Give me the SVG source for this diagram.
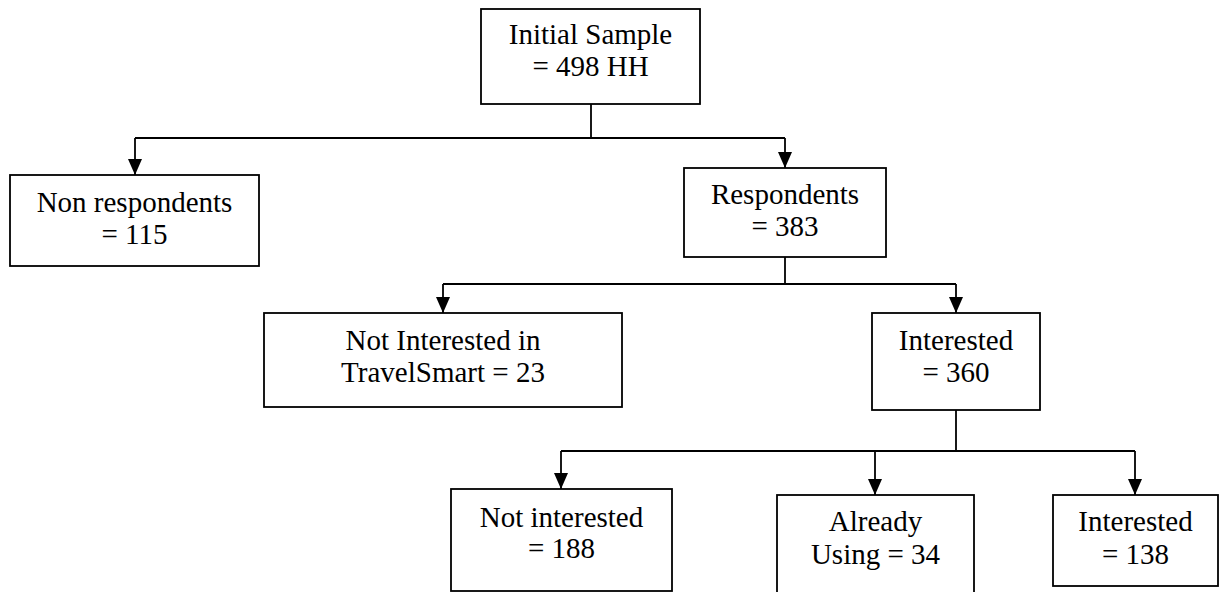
<svg xmlns="http://www.w3.org/2000/svg" width="1221" height="592" viewBox="0 0 1221 592">
<style>
  .box { fill: #ffffff; stroke: #000000; stroke-width: 1.8; }
  .lbl { font-family: "Liberation Serif", "Times New Roman", serif; font-size: 29px; fill: #000000; text-anchor: middle; }
  .conn { fill: none; stroke: #000000; stroke-width: 1.8; }
</style>
<defs>
  <marker id="arr" markerUnits="userSpaceOnUse" markerWidth="18" markerHeight="16" refX="16" refY="7" orient="auto">
    <path d="M0,0 L16,7 L0,14 z" fill="#000000"/>
  </marker>
</defs>
<rect width="1221" height="592" fill="#ffffff"/>
<g id="connectors">
  <polyline class="conn" points="591,104 591,138"/>
  <polyline class="conn" points="135,138 785,138"/>
  <line class="conn" x1="135" y1="138" x2="135" y2="175" marker-end="url(#arr)"/>
  <line class="conn" x1="785" y1="138" x2="785" y2="168" marker-end="url(#arr)"/>
  <polyline class="conn" points="785,257 785,284"/>
  <polyline class="conn" points="443,284 956,284"/>
  <line class="conn" x1="443" y1="284" x2="443" y2="313" marker-end="url(#arr)"/>
  <line class="conn" x1="956" y1="284" x2="956" y2="313" marker-end="url(#arr)"/>
  <polyline class="conn" points="956,410 956,451"/>
  <polyline class="conn" points="561,451 1135,451"/>
  <line class="conn" x1="561" y1="451" x2="561" y2="489" marker-end="url(#arr)"/>
  <line class="conn" x1="875" y1="451" x2="875" y2="495" marker-end="url(#arr)"/>
  <line class="conn" x1="1135" y1="451" x2="1135" y2="495" marker-end="url(#arr)"/>
</g>
<g id="initial">
  <rect class="box" x="481" y="9" width="219" height="95"/>
  <text class="lbl" x="590.5" y="44">Initial Sample</text>
  <text class="lbl" x="590.5" y="76">= 498 HH</text>
</g>
<g id="non-respondents">
  <rect class="box" x="10" y="175" width="249" height="91"/>
  <text class="lbl" x="134.5" y="212">Non respondents</text>
  <text class="lbl" x="134.5" y="244">= 115</text>
</g>
<g id="respondents">
  <rect class="box" x="684" y="168" width="202" height="89"/>
  <text class="lbl" x="785" y="204">Respondents</text>
  <text class="lbl" x="785" y="236">= 383</text>
</g>
<g id="not-interested-travelsmart">
  <rect class="box" x="264" y="313" width="358" height="94"/>
  <text class="lbl" x="443" y="350">Not Interested in</text>
  <text class="lbl" x="443" y="382">TravelSmart = 23</text>
</g>
<g id="interested-360">
  <rect class="box" x="872" y="313" width="168" height="97"/>
  <text class="lbl" x="956" y="350">Interested</text>
  <text class="lbl" x="956" y="382">= 360</text>
</g>
<g id="not-interested-188">
  <rect class="box" x="451" y="489" width="221" height="102"/>
  <text class="lbl" x="561.5" y="527">Not interested</text>
  <text class="lbl" x="561.5" y="558">= 188</text>
</g>
<g id="already-using">
  <rect class="box" x="777" y="495" width="197" height="110"/>
  <text class="lbl" x="875.5" y="531">Already</text>
  <text class="lbl" x="875.5" y="564">Using = 34</text>
</g>
<g id="interested-138">
  <rect class="box" x="1053" y="495" width="165" height="91"/>
  <text class="lbl" x="1135.5" y="531">Interested</text>
  <text class="lbl" x="1135.5" y="564">= 138</text>
</g>
</svg>
